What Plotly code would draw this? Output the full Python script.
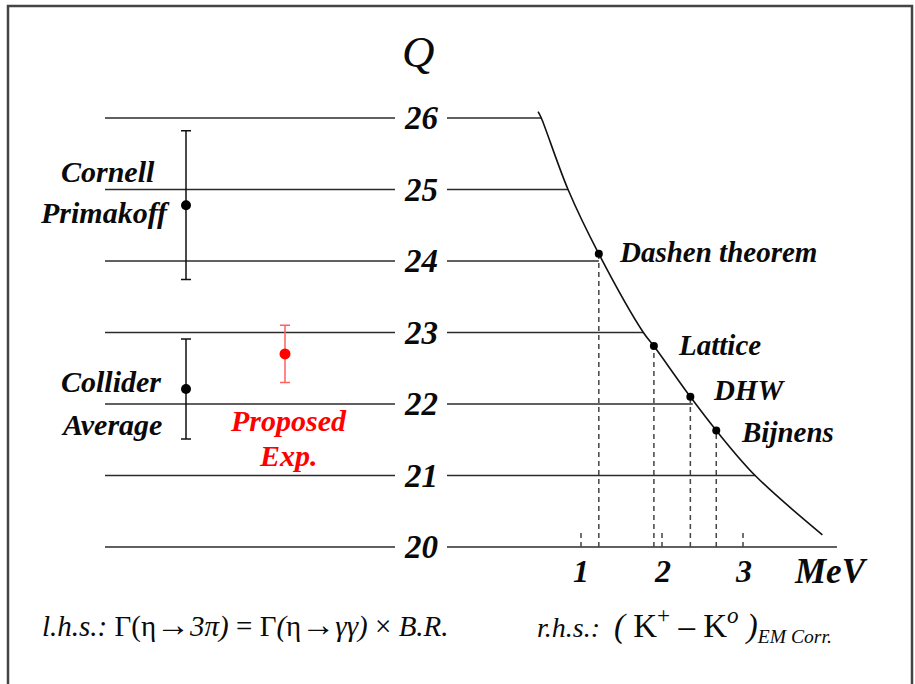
import plotly.graph_objects as go

# ---------------- data ----------------
q_levels = [20, 21, 22, 23, 24, 25, 26]
q_line_end_mev = [4.16, 3.15, 2.38, 1.77, 1.22, 0.84, 0.51]   # where each right-hand line meets the curve

# curve Q vs EM correction (MeV)
curve_mev = [0.47, 0.51, 0.84, 1.22, 1.77, 1.90, 2.35, 2.67, 3.15, 3.98]
curve_q = [26.09, 26.0, 25.0, 24.1, 23.0, 22.81, 22.10, 21.63, 21.0, 20.17]

theory_names = ["Dashen theorem", "Lattice", "DHW", "Bijnens"]
theory_mev = [1.22, 1.90, 2.35, 2.67]
theory_q = [24.1, 22.81, 22.10, 21.63]

mev_ticks = [1, 2, 3]

# measurements (left-hand side)
meas_lines = [["Cornell", "Primakoff"], ["Collider", "Average"]]
meas_q = [24.78, 22.21]
meas_err = [1.04, 0.70]
prop_lines = ["Proposed", "Exp."]
prop_q = [22.70]
prop_err = [0.40]

# ---------------- layout helpers ----------------
W, H = 915, 684
PX_PER_Q = 71.5
Y_Q26 = 118.0
q_top = 26 + Y_Q26 / PX_PER_Q
q_bot = 26 - (H - Y_Q26) / PX_PER_Q
PX_PER_MEV = 81.0
X_MEV0 = 500.0
mev_lo = -X_MEV0 / PX_PER_MEV
mev_hi = (W - X_MEV0) / PX_PER_MEV

def q_at_px(py):
    return 26 - (py - Y_Q26) / PX_PER_Q

left_x0, left_x1 = 105, 395       # left segments (panel px)
label_x = 421                     # Q labels
right_start_mev = (447 - X_MEV0) / PX_PER_MEV
meas_x = [186, 186]
prop_x = [285]

FONT = "Liberation Serif"
LINE_C = "#2b2b2b"
TXT_C = "#0a0a0a"

fig = go.Figure()

# left horizontal segments
lx, ly = [], []
for q in q_levels:
    lx += [left_x0, left_x1, None]
    ly += [q, q, None]
fig.add_trace(go.Scatter(x=lx, y=ly, mode="lines", line=dict(color=LINE_C, width=1.6),
                         xaxis="x", yaxis="y", hoverinfo="skip"))

# right horizontal segments (MeV axis)
rx, ry = [], []
for q, xe in zip(q_levels, q_line_end_mev):
    rx += [right_start_mev, xe, None]
    ry += [q, q, None]
fig.add_trace(go.Scatter(x=rx, y=ry, mode="lines", line=dict(color=LINE_C, width=1.6),
                         xaxis="x2", yaxis="y", hoverinfo="skip"))

# dashed drop lines
dx, dy = [], []
for xm, qm in zip(theory_mev, theory_q):
    dx += [xm, xm, None]
    dy += [q_levels[0], qm, None]
fig.add_trace(go.Scatter(x=dx, y=dy, mode="lines", line=dict(color="#444444", width=1.5, dash="5px,4px"),
                         xaxis="x2", yaxis="y", hoverinfo="skip"))

# small tick marks at 1,2,3 MeV
tx, ty = [], []
for t in mev_ticks:
    tx += [t, t, None]
    ty += [q_levels[0], q_levels[0] + 0.21, None]
fig.add_trace(go.Scatter(x=tx, y=ty, mode="lines", line=dict(color="#444444", width=1.5, dash="5px,4px"),
                         xaxis="x2", yaxis="y", hoverinfo="skip"))

# curve
fig.add_trace(go.Scatter(x=curve_mev, y=curve_q, mode="lines", line=dict(color="#111111", width=1.6, shape="spline"),
                         xaxis="x2", yaxis="y", hoverinfo="skip"))

# theory points
fig.add_trace(go.Scatter(x=theory_mev, y=theory_q, mode="markers", marker=dict(color="black", size=8),
                         xaxis="x2", yaxis="y", hoverinfo="skip"))

# measurements
fig.add_trace(go.Scatter(x=meas_x, y=meas_q, mode="markers", marker=dict(color="black", size=10),
                         error_y=dict(type="data", array=meas_err, color="#111111", thickness=1.5, width=5),
                         xaxis="x", yaxis="y", hoverinfo="skip"))
fig.add_trace(go.Scatter(x=prop_x, y=prop_q, mode="markers", marker=dict(color="#ff0000", size=11),
                         error_y=dict(type="data", array=prop_err, color="#ff6060", thickness=1.5, width=5),
                         xaxis="x", yaxis="y", hoverinfo="skip"))

ann = []
bi = dict(family=FONT, weight="bold", style="italic")
# Q labels
for q in q_levels:
    ann.append(dict(x=label_x, y=q, xref="x", yref="y", text=str(q), showarrow=False,
                    font=dict(size=33, color=TXT_C, **bi), xanchor="center", yanchor="middle"))
ann.append(dict(x=418, y=q_at_px(52), xref="x", yref="y", text="Q", showarrow=False,
                font=dict(family=FONT, size=45, style="italic", color=TXT_C), xanchor="center", yanchor="middle"))
# MeV tick labels
for t in mev_ticks:
    ann.append(dict(x=t, y=q_at_px(571), xref="x2", yref="y", text=str(t), showarrow=False,
                    font=dict(size=32, color=TXT_C, **bi), xanchor="center", yanchor="middle"))
ann.append(dict(x=(831 - X_MEV0) / PX_PER_MEV, y=q_at_px(571), xref="x2", yref="y", text="MeV", showarrow=False,
                font=dict(size=35, color=TXT_C, **bi), xanchor="center", yanchor="middle"))
# theory labels
theory_lab_px = [617, 676, 711, 739]
theory_lab_py = [252, 345, 390, 432]
for n, px, py in zip(theory_names, theory_lab_px, theory_lab_py):
    ann.append(dict(x=(px - X_MEV0) / PX_PER_MEV, y=q_at_px(py), xref="x2", yref="y", text=n, showarrow=False,
                    font=dict(size=29, color=TXT_C, **bi), xanchor="left", yanchor="middle"))
# measurement labels
meas_lab_px = [(108, 105), (111, 111)]
meas_lab_py = [(171, 212), (381, 424)]
for lines, pxs, pys in zip(meas_lines, meas_lab_px, meas_lab_py):
    for t, px, py in zip(lines, pxs, pys):
        ann.append(dict(x=px, y=q_at_px(py), xref="x", yref="y", text=t, showarrow=False,
                        font=dict(size=30, color=TXT_C, **bi), xanchor="center", yanchor="middle"))
for t, py in zip(prop_lines, [420, 455]):
    ann.append(dict(x=288, y=q_at_px(py), xref="x", yref="y", text=t, showarrow=False,
                    font=dict(size=30, color="#ff0000", **bi), xanchor="center", yanchor="middle"))
# bottom formulae
ann.append(dict(x=40 / W, y=1 - 624 / H, xref="paper", yref="paper",
                text="<i>l.h.s.:</i> Γ(η<span style='font-size:34px'>→</span><i>3π)</i> = Γ<i>(</i>η<span style='font-size:34px'>→</span><i>γγ)</i> × <i>B.R.</i>",
                showarrow=False, font=dict(family=FONT, size=29, color=TXT_C),
                xanchor="left", yanchor="middle"))
ann.append(dict(x=535 / W, y=1 - 624 / H, xref="paper", yref="paper",
                text="<i>r.h.s.:</i>  <span style='font-size:33px'><i>(</i> K<sup>+</sup> – K<sup><i>o</i></sup> <i>)</i></span><sub><i>EM Corr.</i></sub>",
                showarrow=False, font=dict(family=FONT, size=28, color=TXT_C),
                xanchor="left", yanchor="middle"))

fig.update_layout(
    width=W, height=H, margin=dict(l=0, r=0, t=0, b=0),
    paper_bgcolor="white", plot_bgcolor="white", showlegend=False,
    xaxis=dict(range=[0, W], visible=False, domain=[0, 1], fixedrange=True),
    xaxis2=dict(range=[mev_lo, mev_hi], visible=False, overlaying="x", anchor="y", fixedrange=True),
    yaxis=dict(range=[q_bot, q_top], visible=False, domain=[0, 1], fixedrange=True),
    annotations=ann,
    shapes=[dict(type="rect", xref="paper", yref="paper", x0=8 / W, x1=912 / W, y0=-0.02, y1=1 - 6 / H,
                 line=dict(color="#444444", width=2.5), fillcolor="rgba(0,0,0,0)")],
)

fig.write_html("out.html")
